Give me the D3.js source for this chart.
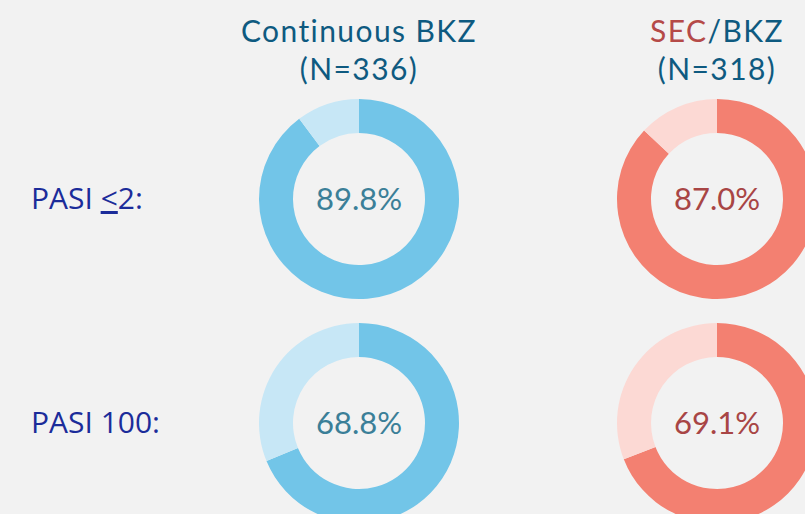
<!DOCTYPE html>
<html>
<head>
<meta charset="utf-8">
<script src="https://cdn.jsdelivr.net/npm/d3@7"></script>
<style>
    body { margin: 0; background: #f2f2f2; }
    #chart { width: 805px; height: 514px; overflow: hidden; }
    text { font-family: Lato, "Open Sans", sans-serif; }
</style>
</head>
<body>
<div id="chart"></div>
<script>
// data
let groups = ["Continuous BKZ", "SEC/BKZ"];
let groupN = [336, 318];
let rows = ["PASI \u22642:", "PASI 100:"];
// response rates (%) per row, per group
let pasi2 = [89.8, 87.0];
let pasi100 = [68.8, 69.1];
let values = [pasi2, pasi100];

let colors = [
    {main: "#72c5e8", light: "#c7e7f6", text: "#3b7f98"},
    {main: "#f38071", light: "#fcd9d4", text: "#a84545"}
];

let width = 805, height = 514;

let svg = d3.select("#chart").append("svg")
    .attr("width", width)
    .attr("height", height);

// column and row positions of the donut centres
let x = d3.scalePoint().domain(groups).range([359, 717]);
let y = d3.scalePoint().domain(rows).range([199, 423]);

let pie = d3.pie().sort(null).value(d => d.value);
let arc = d3.arc().innerRadius(66).outerRadius(100);

// column titles
let titles = svg.append("g").attr("class", "titles");
groups.forEach((g, i) => {
    let t = titles.append("text")
        .attr("x", x(g))
        .attr("y", 42)
        .attr("text-anchor", "middle")
        .style("font-size", "30px")
        .style("letter-spacing", "1.4px")
        .style("fill", "#0e5a80");
    if (g.startsWith("SEC")) {
        t.append("tspan").text("SEC").style("fill", "#b54a48");
        t.append("tspan").text(g.slice(3));
    } else {
        t.text(g);
    }
    titles.append("text")
        .attr("x", x(g))
        .attr("y", 80)
        .attr("text-anchor", "middle")
        .style("font-size", "30px")
        .style("letter-spacing", "1.4px")
        .style("fill", "#0e5a80")
        .text("(N=" + groupN[i] + ")");
});

// row labels (the "≤" is drawn as an underlined "<", as on the slide)
let labels = svg.selectAll(".row-label")
    .data(rows)
    .enter()
    .append("text")
    .attr("class", "row-label")
    .attr("x", 31)
    .attr("y", d => y(d) + 10)
    .style("font-family", "'Open Sans', sans-serif")
    .style("font-size", "30px")
    .style("fill", "#1b2c9a");

labels.each(function(d) {
    let el = d3.select(this);
    let parts = d.split("\u2264");
    el.append("tspan").text(parts[0]);
    if (parts.length > 1) {
        el.append("tspan").text("<").style("text-decoration", "underline");
        el.append("tspan").text(parts[1]);
    }
});

// donuts
rows.forEach((r, ri) => {
    groups.forEach((g, gi) => {
        let v = values[ri][gi];
        let c = colors[gi];
        let donut = svg.append("g")
            .attr("class", "donut")
            .attr("transform", `translate(${x(g)}, ${y(r)})`);

        donut.selectAll("path")
            .data(pie([{value: v, color: c.main}, {value: 100 - v, color: c.light}]))
            .enter()
            .append("path")
            .attr("d", arc)
            .style("fill", d => d.data.color);

        donut.append("text")
            .attr("text-anchor", "middle")
            .attr("dy", "0.35em")
            .style("font-size", "31px")
            .style("fill", c.text)
            .text(v.toFixed(1) + "%");
    });
});
</script>
</body>
</html>
